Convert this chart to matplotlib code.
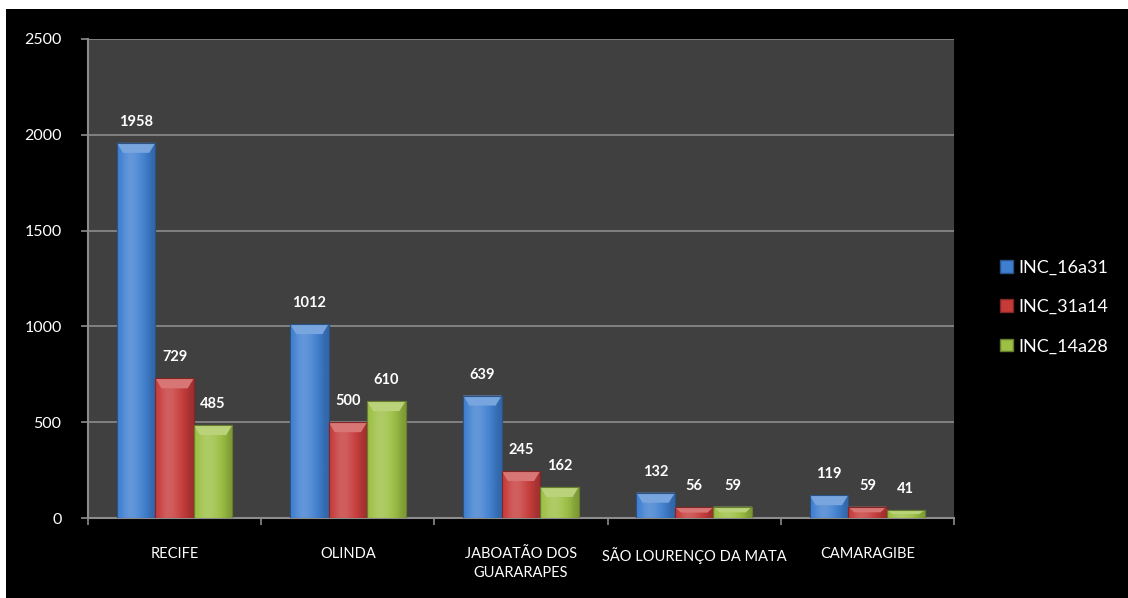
import numpy as np
import matplotlib
matplotlib.use("Agg")
import matplotlib.pyplot as plt
from matplotlib.patches import Rectangle, Polygon, Patch
from matplotlib.colors import to_rgb

plt.rcParams['font.family'] = ['Lato', 'DejaVu Sans']

# -----------------------------
# data
# -----------------------------
cities = ["RECIFE", "OLINDA", "JABOATÃO DOS\nGUARARAPES", "SÃO LOURENÇO DA MATA", "CAMARAGIBE"]
inc_16a31 = [1958, 1012, 639, 132, 119]
inc_31a14 = [729, 500, 245, 56, 59]
inc_14a28 = [485, 610, 162, 59, 41]
series_names = ["INC_16a31", "INC_31a14", "INC_14a28"]
yticks = [0, 500, 1000, 1500, 2000, 2500]

colors = ["#3f7fd0", "#c63b3a", "#9cc043"]

fig = plt.figure(figsize=(11.28, 5.98), dpi=100, facecolor="white")
# black chart area (white margin on left/top)
fig.patches.append(Rectangle((6 / 1128, 0), 1 - 6 / 1128, 1 - 9 / 598,
                             transform=fig.transFigure, facecolor="black",
                             edgecolor="none", zorder=-10))

ax = fig.add_axes([88 / 1128, 1 - 518 / 598, (954 - 88) / 1128, (518 - 39) / 598])
ax.set_facecolor("#404040")

x = np.arange(len(cities))
w = 1 / 4.5
series = [inc_16a31, inc_31a14, inc_14a28]


def shade(c, f):
    r = np.array(to_rgb(c))
    if f >= 0:
        return tuple(r + (1 - r) * f)
    return tuple(r * (1 + f))


bevel = 2500 * 10 / 479  # ~10px top bevel
for i, (vals, col) in enumerate(zip(series, colors)):
    bars = ax.bar(x + (i - 1) * w, vals, w, color=col, edgecolor=shade(col, -0.35),
                  linewidth=0.8, zorder=3)
    for b in bars:
        bx, bw, bh = b.get_x(), b.get_width(), b.get_height()
        # horizontal gradient
        grad = np.array([0.0, 0.15, 0.2, 0.15, 0.05, -0.05, -0.2])
        img = np.array([[shade(col, g) for g in grad]])
        im = ax.imshow(img, extent=(bx, bx + bw, 0, bh), aspect="auto",
                       interpolation="bicubic", zorder=3.5)
        im.set_clip_path(b)
        # top bevel
        d = min(bevel, bh / 2)
        inset = bw * 0.16
        ax.add_patch(Polygon([(bx, bh), (bx + bw, bh), (bx + bw - inset, bh - d),
                              (bx + inset, bh - d)], closed=True,
                             facecolor=shade(col, 0.3), edgecolor="none", zorder=4))
        ax.add_patch(Rectangle((bx, 0), bw, bh, facecolor="none",
                               edgecolor=shade(col, -0.35), linewidth=0.8, zorder=4.5))
        ax.annotate(f"{int(bh)}", (bx + bw / 2, bh), xytext=(0, 15),
                    textcoords="offset points", ha="center", va="center",
                    color="white", fontsize=10.5, fontweight="bold", zorder=5)

ax.set_xlim(-0.5, len(cities) - 0.5)
ax.set_ylim(0, 2500)
ax.set_yticks(yticks)
ax.yaxis.grid(True, color="#8c8c8c", linewidth=1.2, zorder=0)
ax.set_axisbelow(True)

ax.set_xticks(np.arange(-0.5, len(cities)), minor=False)
ax.set_xticklabels([])
ax.set_xticks(x, minor=True)
ax.set_xticklabels(cities, minor=True, color="white", fontsize=10.5, linespacing=1.45)
ax.tick_params(axis="x", which="minor", length=0, pad=21)
ax.tick_params(axis="x", which="major", length=5, color="#8c8c8c", width=1.2)
ax.tick_params(axis="y", length=5, color="#8c8c8c", width=1.2, labelcolor="white",
               labelsize=11.5, pad=14)

for s in ["top", "right"]:
    ax.spines[s].set_visible(False)
for s in ["left", "bottom"]:
    ax.spines[s].set_color("#8c8c8c")
    ax.spines[s].set_linewidth(1.5)

handles = [Patch(facecolor=c, edgecolor=shade(c, -0.35)) for c in colors]
leg = fig.legend(handles, series_names, loc="center left",
                 bbox_to_anchor=(993 / 1128, 1 - 307 / 598), frameon=False,
                 fontsize=13, labelcolor="white", handlelength=0.7, handleheight=0.7,
                 handletextpad=0.3, labelspacing=1.3, borderaxespad=0)

fig.savefig("out.png", dpi=100, facecolor=fig.get_facecolor())
